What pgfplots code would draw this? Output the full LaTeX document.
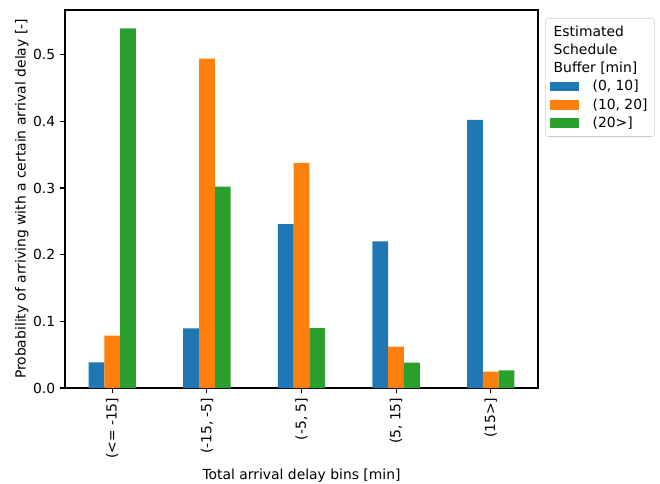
\documentclass[border=0pt]{standalone}
\usepackage{fontspec}
\setmainfont{DejaVu Sans}
\usepackage{pgfplots}
\pgfplotsset{compat=1.18}
\definecolor{tabblue}{HTML}{1F77B4}
\definecolor{taborange}{HTML}{FF7F0E}
\definecolor{tabgreen}{HTML}{2CA02C}
\pgfplotsset{/pgfplots/ybar legend/.style={/pgfplots/legend image code/.code={\path[fill=none, draw=none] (0pt,-6.6pt) rectangle (20pt,6.6pt); \fill[##1, sharp corners] (0pt,-3.5pt) rectangle (21pt,3.5pt);}}}
\begin{document}
\begin{tikzpicture}
\useasboundingbox (-46.8pt,-68.4pt) rectangle (428.4pt,279.36pt);
\begin{axis}[
  scale only axis,
  width=340.56pt, height=272.16pt,
  anchor=south west, at={(0,0)},
  ybar=0pt, bar width=0.16667,
  xmin=-0.5, xmax=4.5, ymin=0, ymax=0.567,
  xtick={0,1,2,3,4},
  xticklabels={{(<= -15]},{(-15, -5]},{(-5, 5]},{(5, 15]},{(15>]}},
  x tick label style={rotate=90, anchor=east},
  ytick={0,0.1,0.2,0.3,0.4,0.5},
  yticklabel style={/pgf/number format/fixed, /pgf/number format/fixed zerofill, /pgf/number format/precision=1},
  /pgf/number format/assume math mode=true,
  tick align=outside, xtick pos=left, ytick pos=left,
  major tick length=3.5pt,
  tick style={line width=0.8pt, black},
  axis line style={line width=0.8pt},
  xlabel={Total arrival delay bins [min]},
  ylabel={Probability of arriving with a certain arrival delay [-]},
  xlabel style={yshift=0pt},
  ylabel style={yshift=-3.5pt},
  legend style={at={(1.015,0.978)}, anchor=north west, draw=black!20, rounded corners=2pt, font=\fontsize{10}{12}\selectfont, row sep=0pt, inner xsep=3pt, inner ysep=3pt},
  legend cell align=left,
]
\addlegendimage{empty legend}
\addlegendentry{\hspace{-20pt}Estimated}
\addlegendimage{empty legend}
\addlegendentry{\hspace{-20pt}Schedule}
\addlegendimage{empty legend}
\addlegendentry{\hspace{-20pt}Buffer [min]}
\addplot[fill=tabblue, draw=none] coordinates {(0,0.0386) (1,0.0893) (2,0.246) (3,0.220) (4,0.4023)};
\addlegendentry{\hspace{8pt}(0, 10]}
\addplot[fill=taborange, draw=none] coordinates {(0,0.0787) (1,0.494) (2,0.3377) (3,0.0622) (4,0.0246)};
\addlegendentry{\hspace{8pt}(10, 20]}
\addplot[fill=tabgreen, draw=none] coordinates {(0,0.5395) (1,0.302) (2,0.0897) (3,0.0382) (4,0.0266)};
\addlegendentry{\hspace{8pt}(20>]}
\end{axis}
\end{tikzpicture}
\end{document}
